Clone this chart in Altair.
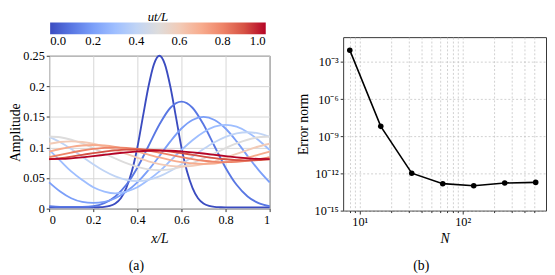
import altair as alt
import pandas as pd

FONT = "Liberation Serif"

# ---- panel (a): amplitude profiles ----
x_fine = [0.0, 0.025, 0.05, 0.075, 0.1, 0.125, 0.15, 0.175, 0.2, 0.225, 0.25,
          0.275, 0.3, 0.325, 0.35, 0.375, 0.4, 0.425, 0.45, 0.475, 0.5,
          0.525, 0.55, 0.575, 0.6, 0.625, 0.65, 0.675, 0.7, 0.725, 0.75,
          0.775, 0.8, 0.825, 0.85, 0.875, 0.9, 0.925, 0.95, 0.975, 1.0]
x_coarse = [0.0, 0.05, 0.1, 0.15, 0.2, 0.25, 0.3, 0.35, 0.4, 0.45, 0.5,
            0.55, 0.6, 0.65, 0.7, 0.75, 0.8, 0.85, 0.9, 0.95, 1.0]

amp_00 = [0.002, 0.002, 0.002, 0.002, 0.002, 0.002, 0.002, 0.002, 0.002, 0.0023, 0.0028,
          0.0045, 0.0085, 0.017, 0.034, 0.061, 0.100, 0.150, 0.199, 0.236, 0.25,
          0.236, 0.199, 0.150, 0.100, 0.061, 0.034, 0.017, 0.0085, 0.0045, 0.0028,
          0.0023, 0.002, 0.002, 0.002, 0.002, 0.002, 0.002, 0.002, 0.002, 0.002]
amp_01 = [0.004, 0.003, 0.0028, 0.003, 0.004, 0.009, 0.020, 0.039, 0.067, 0.102, 0.1375,
          0.165, 0.175, 0.165, 0.1375, 0.102, 0.067, 0.039, 0.020, 0.009, 0.004]
amp_02 = [0.043, 0.028, 0.017, 0.011, 0.0094, 0.011, 0.017, 0.028, 0.043, 0.063, 0.086,
          0.110, 0.131, 0.145, 0.150, 0.145, 0.131, 0.110, 0.086, 0.063, 0.043]
amp_03 = [0.096, 0.0785, 0.061, 0.047, 0.035, 0.028, 0.025, 0.028, 0.035, 0.047, 0.061,
          0.0785, 0.096, 0.112, 0.125, 0.134, 0.137, 0.134, 0.125, 0.112, 0.096]
amp_04 = [0.1174, 0.1085, 0.0974, 0.085, 0.0726, 0.0615, 0.0526, 0.047, 0.045, 0.047, 0.0526,
          0.0615, 0.0726, 0.085, 0.0974, 0.1085, 0.1174, 0.123, 0.125, 0.123, 0.1174]
amp_05 = [0.118, 0.1167, 0.1127, 0.1067, 0.099, 0.0905, 0.082, 0.0743, 0.0683, 0.0643, 0.063,
          0.0643, 0.0683, 0.0743, 0.082, 0.0905, 0.099, 0.1067, 0.1127, 0.1167, 0.118]
amp_06 = [0.1061, 0.109, 0.11, 0.109, 0.1061, 0.1016, 0.0958, 0.0895, 0.0832, 0.0774, 0.0729,
          0.07, 0.069, 0.07, 0.0729, 0.0774, 0.0832, 0.0895, 0.0958, 0.1016, 0.1061]
amp_07 = [0.0933, 0.0976, 0.101, 0.1032, 0.104, 0.1032, 0.101, 0.0976, 0.0933, 0.0885, 0.0837,
          0.0794, 0.076, 0.0738, 0.073, 0.0738, 0.076, 0.0794, 0.0837, 0.0885, 0.0933]
amp_08 = [0.0843, 0.088, 0.0917, 0.0951, 0.0977, 0.0994, 0.1, 0.0994, 0.0977, 0.0951, 0.0917,
          0.088, 0.0843, 0.0809, 0.0783, 0.0766, 0.076, 0.0766, 0.0783, 0.0809, 0.0843]
amp_09 = [0.0807, 0.0827, 0.0852, 0.088, 0.0908, 0.0933, 0.0953, 0.0966, 0.097, 0.0966, 0.0953,
          0.0933, 0.0908, 0.088, 0.0852, 0.0827, 0.0807, 0.0794, 0.079, 0.0794, 0.0807]
amp_10 = [0.081, 0.0813, 0.0823, 0.0839, 0.0858, 0.088, 0.0902, 0.0921, 0.0937, 0.0947, 0.095,
          0.0947, 0.0937, 0.0921, 0.0902, 0.088, 0.0858, 0.0839, 0.0823, 0.0813, 0.081]

ut_values = [0.0, 0.1, 0.2, 0.3, 0.4, 0.5, 0.6, 0.7, 0.8, 0.9, 1.0]
profiles = [amp_00, amp_01, amp_02, amp_03, amp_04, amp_05,
            amp_06, amp_07, amp_08, amp_09, amp_10]
coolwarm = ["#3b4cc0", "#5977e3", "#7b9ff9", "#9ebeff", "#c0d4f5", "#dddcdc",
            "#f2cbb7", "#f7ac8e", "#ee8468", "#d65244", "#b40426"]

x_ticks = [0, 0.2, 0.4, 0.6, 0.8, 1.0]
y_ticks = [0, 0.05, 0.1, 0.15, 0.2, 0.25]
cbar_ticks = [0.0, 0.2, 0.4, 0.6, 0.8, 1.0]

# ---- panel (b): convergence ----
N_values = [8, 16, 32, 64, 128, 256, 512]
err_values = [8.9e-3, 6.3e-9, 1.05e-12, 1.5e-13, 1.0e-13, 1.7e-13, 1.9e-13]
err_yticks = [1e-15, 1e-12, 1e-9, 1e-6, 1e-3]
n_grid = [8, 9, 10, 20, 30, 40, 50, 60, 70, 80, 90, 100, 200, 300, 400, 500]

rows = []
for ut, amps in zip(ut_values, profiles):
    xs = x_fine if len(amps) == len(x_fine) else x_coarse
    for xv, av in zip(xs, amps):
        rows.append({"x": xv, "amp": av, "ut": ut})
df_a = pd.DataFrame(rows)
df_b = pd.DataFrame({"N": N_values, "err": err_values})

color_scale = alt.Scale(domain=ut_values, range=coolwarm, interpolate="rgb")

# colour bar (legend of the ut/L colour scale), carried by an invisible layer
cbar = alt.Chart(df_a).mark_point(opacity=0).encode(
    color=alt.Color("ut:Q", scale=color_scale,
                    legend=alt.Legend(title="ut/L", orient="none", legendX=1, legendY=-26,
                                      direction="horizontal", gradientLength=220,
                                      gradientThickness=12, titleAnchor="middle",
                                      titleOrient="top", titleFontStyle="italic",
                                      titleFont=FONT, titleFontSize=13,
                                      titleFontWeight="normal", titlePadding=-2,
                                      labelFont=FONT, labelFontSize=13, labelAlign="center",
                                      values=cbar_ticks, format=".1f", labelOffset=1,
                                      gradientStrokeWidth=0)),
).properties(width=225, height=6, view=alt.ViewBackground(stroke="transparent"))

main = alt.Chart(df_a).mark_line(strokeWidth=1.9, interpolate="monotone").encode(
    x=alt.X("x:Q", scale=alt.Scale(domain=[0, 1], nice=False, zero=False),
            axis=alt.Axis(values=x_ticks, format="~g", title="x/L",
                          titleFontStyle="italic", titlePadding=6)),
    y=alt.Y("amp:Q", scale=alt.Scale(domain=[0, 0.25], nice=False),
            axis=alt.Axis(values=y_ticks, format="~g", title="Amplitude",
                          titlePadding=0)),
    color=alt.Color("ut:Q", scale=color_scale, legend=None),
    detail="ut:N",
).properties(width=225, height=156,
             title=alt.TitleParams("(a)", orient="bottom", frame="bounds",
                                   anchor="middle", offset=14, dx=-5))

left_col = alt.vconcat(cbar, main, spacing=0).resolve_scale(color="independent")

base_b = alt.Chart(df_b).encode(
    x=alt.X("N:Q", scale=alt.Scale(type="log", domain=[6.9, 645], nice=False),
            axis=alt.Axis(values=n_grid, title="N", titleFontStyle="italic",
                          labelExpr="datum.value == 10 ? '10¹' : datum.value == 100 ? '10²' : ''",
                          gridDash=[2, 2], gridColor="#c4c4c4", gridWidth=0.8,
                          tickSize={"condition": {"test": "datum.value == 10 || datum.value == 100",
                                                  "value": 3.5}, "value": 2},
                          titlePadding=4)),
    y=alt.Y("err:Q", scale=alt.Scale(type="log", domain=[1e-15, 1e-1], nice=False),
            axis=alt.Axis(values=err_yticks, title="Error norm",
                          labelExpr="datum.value < 1e-14 ? '10⁻¹⁵' : datum.value < 1e-11 ? '10⁻¹²' : datum.value < 1e-8 ? '10⁻⁹' : datum.value < 1e-5 ? '10⁻⁶' : '10⁻³'",
                          gridDash=[2, 2], gridColor="#c4c4c4", gridWidth=0.8,
                          titlePadding=4)),
)
right = (base_b.mark_line(color="black", strokeWidth=1.6)
         + base_b.mark_point(filled=True, color="black", size=32, opacity=1)
         ).properties(width=207, height=177,
                      title=alt.TitleParams("(b)", orient="bottom", frame="bounds",
                                            anchor="middle", offset=14))

chart = alt.hconcat(left_col, right, spacing=21).properties(
    padding=0, background="white"
).configure_axis(
    labelFont=FONT, titleFont=FONT, labelFontSize=12.5, titleFontSize=14,
    titleFontWeight="normal", labelColor="black", titleColor="black",
    tickColor="#333333", tickSize=3, domain=False, gridColor="#d6d6d6", gridWidth=1,
    labelPadding=2
).configure_view(
    stroke="#333333", strokeWidth=1
).configure_title(
    font=FONT, fontSize=14, fontWeight="normal", color="black"
)

chart.save("out.html", embed_options={"renderer": "svg", "actions": False})
